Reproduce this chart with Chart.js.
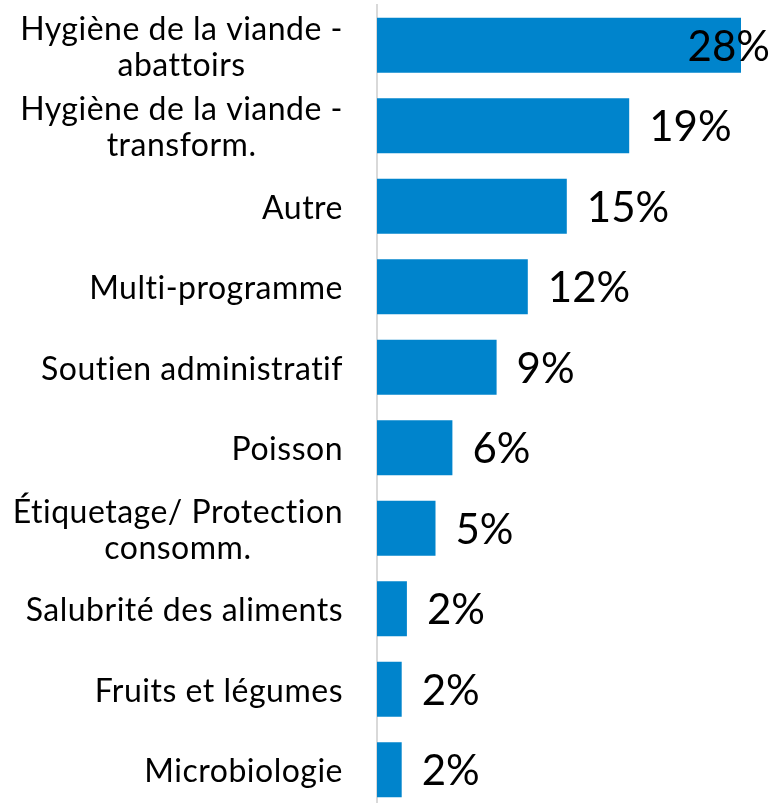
<!DOCTYPE html>
<html>
<head>
<meta charset="utf-8">
<script src="https://cdn.jsdelivr.net/npm/chart.js@4"></script>
<style>
  html, body { margin: 0; padding: 0; background: #fff; overflow: hidden; }
  #wrap { width: 774px; height: 810px; }
</style>
</head>
<body>
<div id="wrap"><canvas id="chart"></canvas></div>
<script>
// --- DATA ---
const categories = [
  ["Hygiène de la viande -", "abattoirs"],
  ["Hygiène de la viande -", "transform."],
  ["Autre"],
  ["Multi-programme"],
  ["Soutien administratif"],
  ["Poisson"],
  ["Étiquetage/ Protection", "consomm."],
  ["Salubrité des aliments"],
  ["Fruits et légumes"],
  ["Microbiologie"]
];
const shares = [28, 19.4, 14.6, 11.6, 9.2, 5.8, 4.5, 2.3, 1.9, 1.9];
const shareLabels = ["28%", "19%", "15%", "12%", "9%", "6%", "5%", "2%", "2%", "2%"];

const labelFont = '32px Lato';
const valueFont = '42px Lato';

// draws the category names (block right-aligned, lines centred) and the value labels
const textPlugin = {
  id: 'texts',
  afterDatasetsDraw(chart) {
    const ctx = chart.ctx;
    const yScale = chart.scales.y;
    const meta = chart.getDatasetMeta(0);
    ctx.save();
    ctx.fillStyle = '#000';
    ctx.textBaseline = 'middle';

    ctx.font = labelFont;
    ctx.letterSpacing = '0.5px'; // also stops the "ti" ligature
    ctx.textAlign = 'center';
    const rightEdge = chart.chartArea.left - 34;
    const lineH = 36;
    categories.forEach((lines, i) => {
      const y = yScale.getPixelForValue(i) + 2;
      const w = Math.max(...lines.map(l => ctx.measureText(l).width));
      const cx = rightEdge - w / 2;
      lines.forEach((l, j) => {
        ctx.fillText(l, cx, y + (j - (lines.length - 1) / 2) * lineH);
      });
    });

    ctx.font = valueFont;
    ctx.letterSpacing = '0px';
    ctx.textAlign = 'left';
    meta.data.forEach((bar, i) => {
      const t = shareLabels[i];
      const w = ctx.measureText(t).width;
      const x = Math.min(bar.x + 20, chart.width - w - 4);
      ctx.fillText(t, x, bar.y + 2);
    });
    ctx.restore();
  }
};

new Chart(document.getElementById('chart'), {
  type: 'bar',
  data: {
    labels: categories,
    datasets: [{
      data: shares,
      backgroundColor: '#0084CC',
      barPercentage: 0.684,
      categoryPercentage: 1
    }]
  },
  options: {
    indexAxis: 'y',
    responsive: true,
    maintainAspectRatio: false,
    animation: false,
    layout: { padding: { top: 5, right: 7, bottom: 0, left: 0 } },
    plugins: { legend: { display: false }, tooltip: { enabled: false } },
    scales: {
      x: { display: false, min: 0, max: 30 },
      y: {
        ticks: { display: false },
        grid: { display: false },
        border: { display: true, color: '#d9d9d9', width: 2 },
        afterFit: s => { s.width = 377; }
      }
    }
  },
  plugins: [textPlugin]
});
</script>
</body>
</html>
